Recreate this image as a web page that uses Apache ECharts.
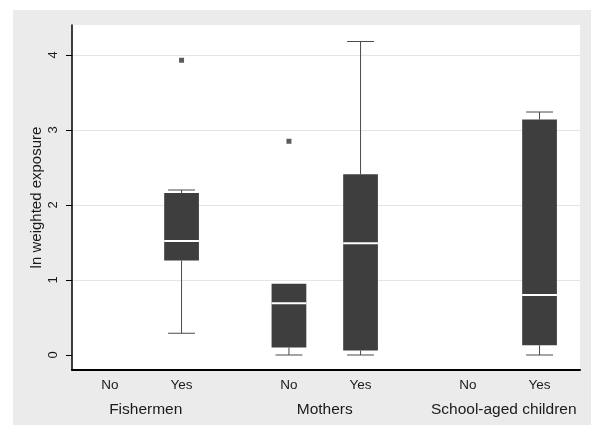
<!DOCTYPE html>
<html>
<head>
<meta charset="utf-8">
<script src="https://cdn.jsdelivr.net/npm/echarts@6/dist/echarts.min.js"></script>
<style>
  html, body { margin: 0; padding: 0; background: #ffffff; }
  #chart { position: absolute; left: 13px; top: 10px; width: 578px; height: 415px; background: #ebebeb; }
</style>
</head>
<body>
<div id="chart"></div>
<script>
// Exposure by group and sub-group (No / Yes)
const groupNames = ['Fishermen', 'Mothers', 'School-aged children'];
const categories = ['No', 'Yes', 'No', 'Yes', 'No', 'Yes'];
const groupOf = [0, 0, 1, 1, 2, 2];

// Box statistics per category (null = no observations)
const whiskerLow  = [null, 0.29, 0.00, 0.00, null, 0.00];
const quartile1   = [null, 1.26, 0.10, 0.06, null, 0.13];
const medians     = [null, 1.52, 0.69, 1.49, null, 0.80];
const quartile3   = [null, 2.16, 0.95, 2.41, null, 3.14];
const whiskerHigh = [null, 2.20, 0.95, 4.18, null, 3.24];

// Outside values: [category index, value]
const outliers = [[1, 3.93], [2, 2.85]];

const yTicks = [0, 1, 2, 3, 4];

// x slot of each category: groups spaced 5 apart, Yes 2 to the right of No
const slotOf = i => groupOf[i] * 5 + (i % 2) * 2;
const groupCenters = groupNames.map((_, g) => g * 5 + 1);

const boxData = [];
categories.forEach((c, i) => {
  if (medians[i] == null) return;
  boxData.push([slotOf(i), whiskerLow[i], quartile1[i], medians[i], quartile3[i], whiskerHigh[i]]);
});
const outlierData = outliers.map(o => [slotOf(o[0]), o[1]]);

const boxFill = '#3e3e3e';
const whiskerColor = '#4a4a4a';

function renderBox(params, api) {
  const x = api.value(0);
  const pLow = api.coord([x, api.value(1)]);
  const pQ1 = api.coord([x, api.value(2)]);
  const pMed = api.coord([x, api.value(3)]);
  const pQ3 = api.coord([x, api.value(4)]);
  const pHigh = api.coord([x, api.value(5)]);
  const unit = api.size([1, 0])[0];
  const bw = unit * 0.97;
  const cw = unit * 0.75;
  const cx = pMed[0];
  const lineStyle = { stroke: whiskerColor, lineWidth: 1 };
  const children = [];
  if (pHigh[1] < pQ3[1] - 0.5) {
    children.push({ type: 'line', shape: { x1: cx, y1: pQ3[1], x2: cx, y2: pHigh[1] }, style: lineStyle });
    children.push({ type: 'line', shape: { x1: cx - cw / 2, y1: pHigh[1], x2: cx + cw / 2, y2: pHigh[1] }, style: lineStyle });
  }
  if (pLow[1] > pQ1[1] + 0.5) {
    children.push({ type: 'line', shape: { x1: cx, y1: pQ1[1], x2: cx, y2: pLow[1] }, style: lineStyle });
    children.push({ type: 'line', shape: { x1: cx - cw / 2, y1: pLow[1], x2: cx + cw / 2, y2: pLow[1] }, style: lineStyle });
  }
  children.push({
    type: 'rect',
    shape: { x: cx - bw / 2, y: pQ3[1], width: bw, height: pQ1[1] - pQ3[1] },
    style: { fill: boxFill }
  });
  children.push({
    type: 'line',
    shape: { x1: cx - bw / 2, y1: pMed[1], x2: cx + bw / 2, y2: pMed[1] },
    style: { stroke: '#ffffff', lineWidth: 2 }
  });
  return { type: 'group', children };
}

const labelFont = { fontFamily: 'Liberation Sans, Arial, sans-serif', color: '#1a1a1a' };

const chart = echarts.init(document.getElementById('chart'));
chart.setOption({
  animation: false,
  backgroundColor: '#ebebeb',
  grid: {
    left: 59, right: 11, top: 15, bottom: 55,
    show: true, backgroundColor: '#ffffff', borderWidth: 0
  },
  xAxis: [
    {
      type: 'value', min: -1.06, max: 13.13, position: 'bottom',
      axisLine: { show: true, onZero: false, lineStyle: { color: '#000', width: 2 } },
      axisTick: { show: false },
      splitLine: { show: false },
      axisLabel: {
        ...labelFont, fontSize: 13.5, margin: 8,
        customValues: categories.map((c, i) => slotOf(i)),
        formatter: v => {
          const i = categories.findIndex((c, k) => slotOf(k) === v);
          return i >= 0 ? categories[i] : '';
        }
      }
    },
    {
      type: 'value', min: -1.06, max: 13.13, position: 'bottom', offset: 24,
      axisLine: { show: false, onZero: false },
      axisTick: { show: false },
      splitLine: { show: false },
      axisLabel: {
        ...labelFont, fontSize: 15.5, margin: 8,
        customValues: groupCenters,
        formatter: v => {
          const g = groupCenters.indexOf(v);
          return g >= 0 ? groupNames[g] : '';
        }
      }
    }
  ],
  yAxis: {
    type: 'value', min: -0.2, max: 4.4,
    name: 'ln weighted exposure',
    nameLocation: 'middle', nameGap: 28, nameMoveOverlap: false,
    nameTextStyle: { ...labelFont, fontSize: 15 },
    axisLine: { show: true, onZero: false, lineStyle: { color: '#000', width: 1.5 } },
    axisTick: { show: true, inside: false, length: 6, customValues: yTicks, lineStyle: { color: '#000', width: 1 } },
    axisLabel: { ...labelFont, fontSize: 13, rotate: 90, margin: 12, customValues: yTicks },
    splitLine: { show: true, lineStyle: { color: ['rgba(0,0,0,0)', '#e4e4e4', '#e4e4e4', '#e4e4e4', '#e4e4e4'], width: 1 } }
  },
  series: [
    {
      type: 'custom',
      xAxisIndex: 0,
      renderItem: renderBox,
      encode: { x: 0, y: [1, 2, 3, 4, 5] },
      data: boxData,
      z: 3
    },
    {
      type: 'scatter',
      xAxisIndex: 0,
      symbol: 'rect',
      symbolSize: 5,
      itemStyle: { color: '#333333' },
      data: outlierData,
      z: 4
    }
  ]
});
</script>
</body>
</html>
